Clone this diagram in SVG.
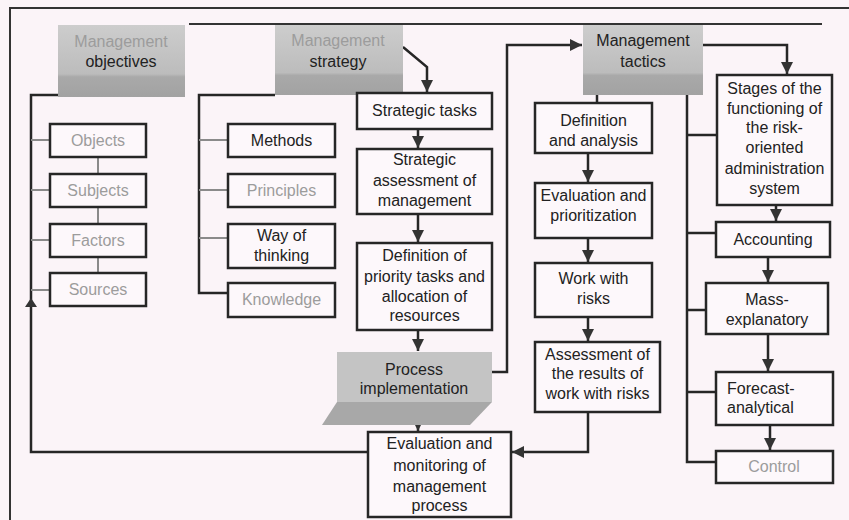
<svg xmlns="http://www.w3.org/2000/svg" width="849" height="520" viewBox="0 0 849 520">
<style>
.bg{fill:#fbf4f8}
.box{fill:#fdf8fb;stroke:#262626;stroke-width:2.5}
.t{font-family:"Liberation Sans",Arial,sans-serif;font-size:16px;fill:#222;text-anchor:middle}
.f{fill:#9c9c9c}
.l{text-anchor:start}
.ln{fill:none;stroke:#262626;stroke-width:2.5}
.lt{fill:none;stroke:#8a8a8a;stroke-width:2}
.frame{fill:none;stroke:#333;stroke-width:2}
</style>
<defs>
<marker id="ah" markerUnits="userSpaceOnUse" markerWidth="12" markerHeight="12" viewBox="0 0 10 10" refX="10" refY="5" orient="auto">
<path d="M0,0 L10,5 L0,10 z" fill="#333"/>
</marker>
<linearGradient id="gbox" x1="0" y1="0" x2="0" y2="1">
<stop offset="0" stop-color="#cdcdcd"/>
<stop offset="0.68" stop-color="#bcbcbc"/>
<stop offset="0.72" stop-color="#a9a9a9"/>
<stop offset="1" stop-color="#a2a2a2"/>
</linearGradient>
</defs>
<rect class="bg" x="0" y="0" width="849" height="520"/>
<g id="frame">
<path class="frame" d="M10,520 V8 H849"/>
<path class="frame" d="M189,24 H822"/>
</g>
<g id="connectors">
<path class="ln" d="M368,452 H31 V95 H60"/>
<polygon points="25,307 37,307 31,298" fill="#333"/>
<path class="lt" d="M31,140 H50 M31,190 H50 M31,240 H50 M31,290 H50"/>
<path class="lt" d="M98,157 V174 M98,207 V224 M98,257 V273"/>
<path class="ln" d="M275,95 H199 V293 H228"/>
<path class="lt" d="M199,140 H228 M199,190 H228 M199,238 H228"/>
<path class="ln" d="M403,47 L427,67 V92" marker-end="url(#ah)"/>
<path class="ln" d="M418,129 V148" marker-end="url(#ah)"/>
<path class="ln" d="M418,214 V242" marker-end="url(#ah)"/>
<path class="ln" d="M418,330 V351" marker-end="url(#ah)"/>
<path class="ln" d="M418,425 V431" marker-end="url(#ah)"/>
<path class="ln" d="M482,372 H507 V45 H582" marker-end="url(#ah)"/>
<path class="ln" d="M597,95 V103"/>
<path class="ln" d="M588,153 V182" marker-end="url(#ah)"/>
<path class="ln" d="M588,238 V262" marker-end="url(#ah)"/>
<path class="ln" d="M588,317 V341" marker-end="url(#ah)"/>
<path class="ln" d="M588,412 V452 H512" marker-end="url(#ah)"/>
<path class="ln" d="M703,45 H787 V74" marker-end="url(#ah)"/>
<path class="ln" d="M687,95 V462 H716 M687,135 H717 M687,233 H716 M687,310 H706 M687,392 H716"/>
<path class="ln" d="M776,205 V221" marker-end="url(#ah)"/>
<path class="ln" d="M768,257 V282" marker-end="url(#ah)"/>
<path class="ln" d="M768,334 V371" marker-end="url(#ah)"/>
<path class="ln" d="M770,425 V450" marker-end="url(#ah)"/>
</g>
<g id="objectives">
<rect x="58" y="25" width="127" height="72" fill="url(#gbox)"/>
<text class="t f" x="121" y="47">Management</text>
<text class="t" x="121" y="67">objectives</text>
</g>
<g id="strategy">
<rect x="275" y="25" width="128" height="70" fill="url(#gbox)"/>
<text class="t f" x="338" y="46">Management</text>
<text class="t" x="338" y="67">strategy</text>
</g>
<g id="tactics">
<rect x="583" y="25" width="120" height="70" fill="url(#gbox)"/>
<text class="t" x="643" y="46">Management</text>
<text class="t" x="643" y="67">tactics</text>
</g>
<g id="objects"><rect class="box" x="50" y="124" width="96" height="33"/><text class="t f" x="98" y="146">Objects</text></g>
<g id="subjects"><rect class="box" x="50" y="174" width="96" height="33"/><text class="t f" x="98" y="196">Subjects</text></g>
<g id="factors"><rect class="box" x="50" y="224" width="96" height="33"/><text class="t f" x="98" y="246">Factors</text></g>
<g id="sources"><rect class="box" x="50" y="273" width="96" height="33"/><text class="t f" x="98" y="295">Sources</text></g>
<g id="methods"><rect class="box" x="228" y="124" width="107" height="33"/><text class="t" x="281.5" y="146">Methods</text></g>
<g id="principles"><rect class="box" x="228" y="174" width="107" height="33"/><text class="t f" x="281.5" y="196">Principles</text></g>
<g id="way"><rect class="box" x="228" y="224" width="107" height="44"/><text class="t" x="281.5" y="241">Way of</text><text class="t" x="281.5" y="261">thinking</text></g>
<g id="knowledge"><rect class="box" x="228" y="283" width="107" height="34"/><text class="t f" x="281.5" y="305">Knowledge</text></g>
<g id="strategic-tasks"><rect class="box" x="357" y="93" width="135" height="36"/><text class="t" x="424.5" y="116">Strategic tasks</text></g>
<g id="strategic-assessment"><rect class="box" x="357" y="149" width="135" height="65"/><text class="t" x="424.5" y="165">Strategic</text><text class="t" x="424.5" y="186">assessment of</text><text class="t" x="424.5" y="206">management</text></g>
<g id="priority"><rect class="box" x="357" y="243" width="135" height="87"/><text class="t" x="424.5" y="261">Definition of</text><text class="t" x="424.5" y="282">priority tasks and</text><text class="t" x="424.5" y="302">allocation of</text><text class="t" x="424.5" y="321">resources</text></g>
<g id="process">
<polygon points="337,352 492,352 492,402 337,402" fill="#c4c4c4"/>
<polygon points="337,402 492,402 470,425 322,425" fill="#a8a8a8"/>
<text class="t" x="414" y="375">Process</text>
<text class="t" x="414" y="394">implementation</text>
</g>
<g id="evaluation"><rect class="box" x="368" y="432" width="143" height="85"/><text class="t" x="439.5" y="449">Evaluation and</text><text class="t" x="439.5" y="471">monitoring of</text><text class="t" x="439.5" y="492">management</text><text class="t" x="439.5" y="511">process</text></g>
<g id="definition"><rect class="box" x="535" y="103" width="117" height="50"/><text class="t" x="593.5" y="126">Definition</text><text class="t" x="593.5" y="146">and analysis</text></g>
<g id="prioritization"><rect class="box" x="535" y="183" width="117" height="55"/><text class="t" x="593.5" y="201">Evaluation and</text><text class="t" x="593.5" y="221">prioritization</text></g>
<g id="work"><rect class="box" x="535" y="263" width="117" height="54"/><text class="t" x="593.5" y="284">Work with</text><text class="t" x="593.5" y="304">risks</text></g>
<g id="assessment"><rect class="box" x="535" y="342" width="125" height="70"/><text class="t" x="597.5" y="360">Assessment of</text><text class="t" x="597.5" y="379">the results of</text><text class="t" x="597.5" y="399">work with risks</text></g>
<g id="stages"><rect class="box" x="717" y="75" width="115" height="130"/>
<text class="t" x="774.5" y="94">Stages of the</text><text class="t" x="774.5" y="114">functioning of</text><text class="t" x="774.5" y="133">the risk-</text><text class="t" x="774.5" y="153">oriented</text><text class="t" x="774.5" y="174">administration</text><text class="t" x="774.5" y="194">system</text></g>
<g id="accounting"><rect class="box" x="716" y="222" width="114" height="35"/><text class="t" x="773" y="245">Accounting</text></g>
<g id="mass"><rect class="box" x="706" y="283" width="122" height="51"/><text class="t" x="767" y="305">Mass-</text><text class="t" x="767" y="325">explanatory</text></g>
<g id="forecast"><rect class="box" x="716" y="372" width="117" height="53"/><text class="t l" x="727" y="394">Forecast-</text><text class="t l" x="727" y="413">analytical</text></g>
<g id="control"><rect class="box" x="716" y="451" width="117" height="32"/><text class="t f" x="774" y="472">Control</text></g>
</svg>
